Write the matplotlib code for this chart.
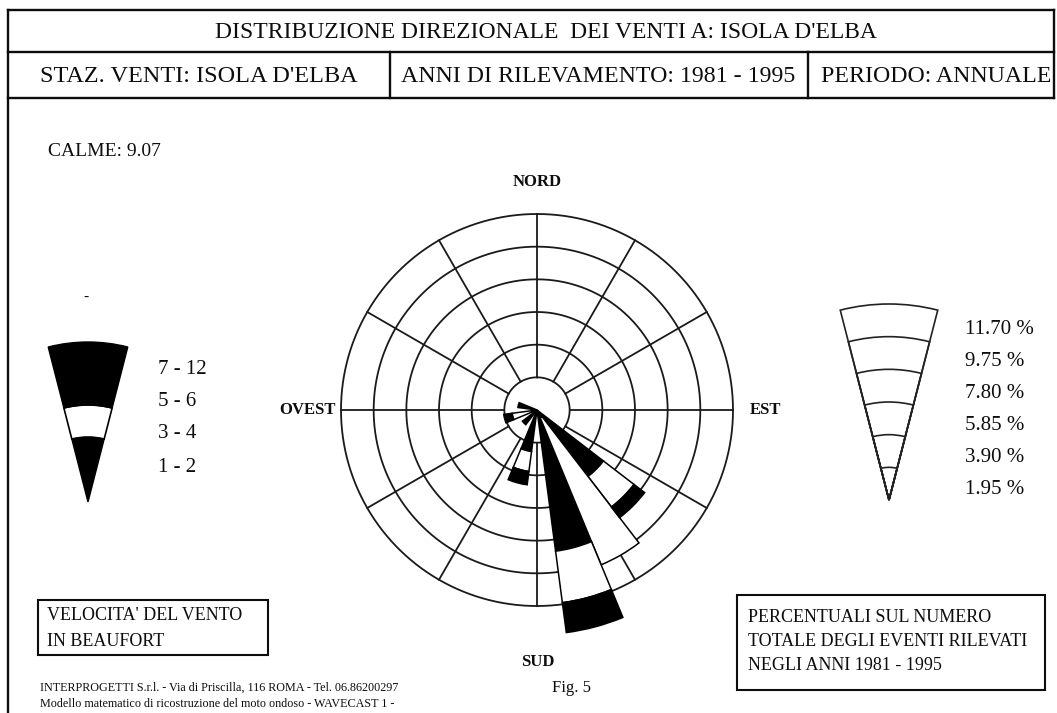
import numpy as np
import matplotlib.pyplot as plt
from matplotlib.patches import Wedge, Rectangle

plt.rcParams['font.family'] = ['Liberation Serif', 'DejaVu Serif']

W, H = 1057, 713

# #############################################################################
# Data
# #############################################################################

# bearing of each sector (deg from north, clockwise), 15 deg sectors
directions = [135, 150, 165, 195, 225, 255, 285]
sector_width = 15

# percentage of events per Beaufort class, stacked outwards
beaufort_1_2 = [5.0, 0.5, 8.5, 2.5, 1.1, 0.3, 1.15]
beaufort_3_4 = [2.3, 9.5, 3.1, 1.2, 0.0, 1.2, 0.0]
beaufort_5_12 = [0.8, 0.0, 1.8, 0.8, 0.0, 0.5, 0.0]

ring_levels = [1.95, 3.90, 5.85, 7.80, 9.75, 11.70]
ring_labels = ["11.70 %", "9.75 %", "7.80 %", "5.85 %", "3.90 %", "1.95 %"]
beaufort_labels = ["7 - 12", "5 - 6", "3 - 4", "1 - 2"]
calme = 9.07

compass = ["NORD", "EST", "SUD", "OVEST"]

# #############################################################################
# Page: frame, header and text (pixel coordinates)
# #############################################################################

fig = plt.figure(figsize=(W / 100, H / 100), dpi=100)
bg = fig.add_axes([0, 0, 1, 1])
bg.set_xlim(0, W)
bg.set_ylim(H, 0)
bg.axis("off")

ink = "#0d0d0d"
frame = dict(color=ink, lw=1.7)
bg.plot([8, 1054], [10, 10], **frame)
bg.plot([8, 1054], [52, 52], **frame)
bg.plot([8, 1054], [98, 98], **frame)
bg.plot([8, 8], [10, H], **frame)
bg.plot([1054, 1054], [10, 98], **frame)
bg.plot([390, 390], [52, 98], **frame)
bg.plot([808, 808], [52, 98], **frame)

bg.text(546, 32, "DISTRIBUZIONE DIREZIONALE  DEI VENTI A: ISOLA D'ELBA",
        ha="center", va="center", fontsize=17, color=ink)
bg.text(199, 77, "STAZ. VENTI: ISOLA D'ELBA", ha="center", va="center",
        fontsize=17.5, color=ink)
bg.text(598, 77, "ANNI DI RILEVAMENTO: 1981 - 1995", ha="center", va="center",
        fontsize=17.2, color=ink)
bg.text(936, 77, "PERIODO: ANNUALE", ha="center", va="center",
        fontsize=17.2, color=ink)

bg.text(48, 152, f"CALME: {calme:.2f}", ha="left", va="center", fontsize=14,
        color=ink)

# left legend: Beaufort classes
tip = (88, 502)
half = 14.4
bg.add_patch(Wedge(tip, 65, 270 - half, 270 + half, fc="black", ec="black"))
bg.add_patch(Wedge(tip, 97, 270 - half, 270 + half, width=32, fc="white",
                   ec="black", lw=1.2))
bg.add_patch(Wedge(tip, 160, 270 - half, 270 + half, width=63, fc="black",
                   ec="black"))
for label, y in zip(beaufort_labels, [370, 401, 434, 467]):
    bg.text(158, y, label, ha="left", va="center", fontsize=15, color=ink)
bg.text(86, 297, "-", ha="center", va="center", fontsize=11, color=ink)

# right legend: percentage scale
tip = (889, 500)
px_per_pct = 196 / ring_levels[-1]
for lvl in ring_levels:
    bg.add_patch(Wedge(tip, lvl * px_per_pct, 270 - half, 270 + half,
                       fc="none", ec="#222222", lw=1.2))
for label, y in zip(ring_labels, [330, 362, 394, 426, 457, 489]):
    bg.text(965, y, label, ha="left", va="center", fontsize=15, color=ink)

# note boxes
bg.add_patch(Rectangle((38, 600), 230, 55, fc="none", ec=ink, lw=1.5))
bg.text(47, 616, "VELOCITA' DEL VENTO", ha="left", va="center", fontsize=13,
        color=ink)
bg.text(47, 641, "IN BEAUFORT", ha="left", va="center", fontsize=13,
        color=ink)

bg.add_patch(Rectangle((737, 595), 308, 95, fc="none", ec=ink, lw=1.5))
for text, y in zip(["PERCENTUALI SUL NUMERO",
                    "TOTALE DEGLI EVENTI RILEVATI",
                    "NEGLI ANNI 1981 - 1995"], [617, 641, 665]):
    bg.text(748, y, text, ha="left", va="center", fontsize=13, color=ink)

bg.text(40, 688, "INTERPROGETTI S.r.l. - Via di Priscilla, 116 ROMA - Tel. 06.86200297",
        ha="left", va="center", fontsize=8.7, color=ink)
bg.text(40, 704, "Modello matematico di ricostruzione del moto ondoso - WAVECAST 1 -",
        ha="left", va="center", fontsize=8.7, color=ink)
bg.text(571, 688, "Fig. 5", ha="center", va="center", fontsize=12, color=ink)

# compass labels
cx, cy = 537, 410
for name, pos in zip(compass, [(537, 182), (766, 410), (538, 662), (308, 410)]):
    bg.text(pos[0], pos[1], name, ha="center", va="center", fontsize=12,
            fontweight="bold", color=ink)

# #############################################################################
# Wind rose (polar axes)
# #############################################################################

r_max = 13.6
radius = px_per_pct * r_max
ax = fig.add_axes([(cx - radius) / W, (H - cy - radius) / H,
                   2 * radius / W, 2 * radius / H], projection="polar")
ax.set_facecolor("none")
ax.set_theta_zero_location("N")
ax.set_theta_direction(-1)
ax.set_ylim(0, r_max)
ax.grid(False)
ax.set_xticks([])
ax.set_yticks([])
ax.spines["polar"].set_visible(False)

theta = np.linspace(0, 2 * np.pi, 721)
for lvl in ring_levels:
    ax.plot(theta, np.full_like(theta, lvl), color="#1a1a1a", lw=1.3, zorder=1)
for a in range(0, 360, 30):
    ax.plot([np.deg2rad(a)] * 2, [ring_levels[0], ring_levels[-1]],
            color="#1a1a1a", lw=1.3, zorder=1)

th = np.deg2rad(directions)
b1 = np.array(beaufort_1_2)
b2 = np.array(beaufort_3_4)
b3 = np.array(beaufort_5_12)
for heights, bottoms, fc in [(b1, 0 * b1, "black"), (b2, b1, "white"),
                             (b3, b1 + b2, "black")]:
    m = heights > 0
    ax.bar(th[m], heights[m], width=np.deg2rad(sector_width), bottom=bottoms[m],
           color=fc, edgecolor="black", lw=1.1, zorder=3)

fig.savefig("out.png", dpi=100)
